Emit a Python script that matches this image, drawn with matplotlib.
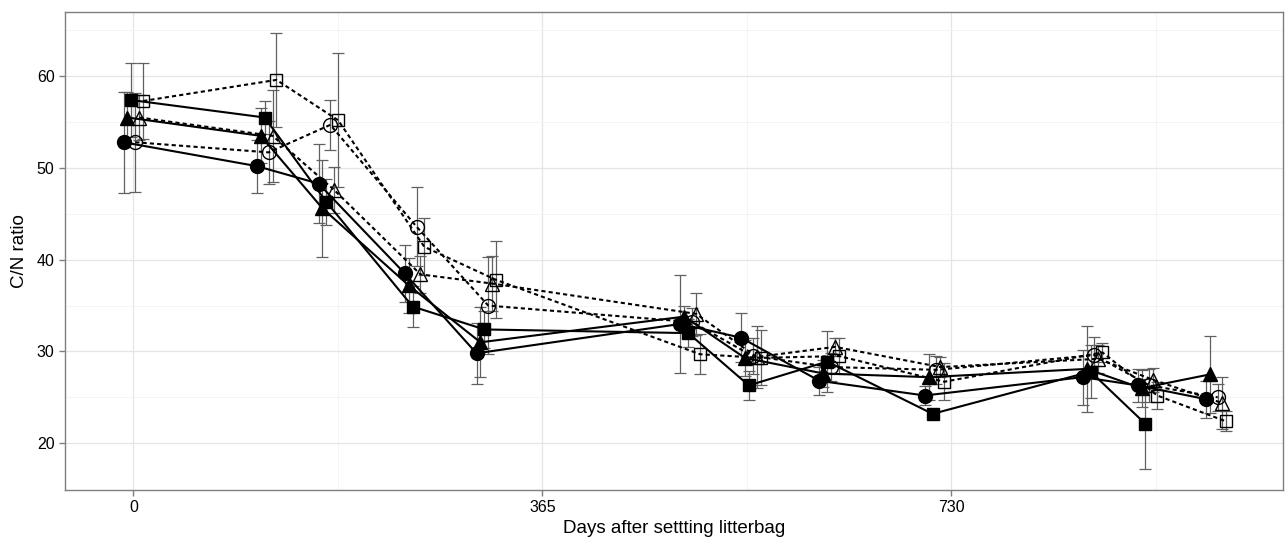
import numpy as np
import matplotlib
matplotlib.use("Agg")
import matplotlib.pyplot as plt
from matplotlib.ticker import FixedLocator

plt.rcParams['font.family'] = ['Liberation Sans', 'DejaVu Sans']

days = [0, 119, 174, 251, 315, 497, 551, 621, 715, 856, 905, 966]
nan = np.nan

filled_circle = [52.8, 50.2, 48.3, 38.5, 29.8, 33.0, 31.5, 26.8, 25.2, 27.2, 26.3, 24.8]
filled_circle_sd = [5.5, 2.9, 4.3, 3.1, 3.3, 5.3, 2.7, 1.5, 1.0, 3.0, 1.8, 2.0]
filled_triangle = [55.5, 53.5, 45.6, 37.2, 31.0, 33.8, 29.3, 27.6, 27.2, 28.1, 26.0, 27.5]
filled_triangle_sd = [2.8, 3.0, 5.3, 3.0, 3.8, 1.2, 2.0, 1.5, 2.5, 4.7, 2.0, 4.2]
filled_square = [57.4, 55.5, 46.3, 34.9, 32.4, 32.0, 26.3, 28.9, 23.2, 27.8, 22.1, nan]
filled_square_sd = [4.0, 1.8, 2.5, 2.2, 2.0, 1.5, 1.6, 3.3, 0.5, 2.9, 4.9, nan]
open_circle = [52.8, 51.7, 54.7, 43.6, 35.0, 33.2, 29.5, 28.3, 28.0, 29.6, 26.3, 25.0]
open_circle_sd = [5.4, 3.4, 2.7, 4.3, 5.3, 1.5, 2.0, 1.5, 1.5, 2.0, 1.8, 1.5]
open_triangle = [55.5, 53.5, 47.6, 38.4, 37.4, 34.1, 29.4, 30.5, 28.3, 29.2, 26.9, 24.4]
open_triangle_sd = [2.5, 5.0, 2.5, 2.0, 3.0, 2.3, 3.4, 1.0, 1.1, 1.5, 1.3, 2.8]
open_square = [57.3, 59.6, 55.2, 41.4, 37.8, 29.7, 29.3, 29.5, 26.7, 29.9, 25.2, 22.4]
open_square_sd = [4.1, 5.1, 7.3, 3.1, 4.2, 2.2, 3.0, 2.0, 2.0, 1.0, 1.5, 1.1]

x_ticks = [0, 365, 730]
y_ticks = [20, 30, 40, 50, 60]

series = [
    (filled_circle, filled_circle_sd, 'o', 'black', '-'),
    (filled_triangle, filled_triangle_sd, '^', 'black', '-'),
    (filled_square, filled_square_sd, 's', 'black', '-'),
    (open_circle, open_circle_sd, 'o', 'none', '--'),
    (open_triangle, open_triangle_sd, '^', 'none', '--'),
    (open_square, open_square_sd, 's', 'none', '--'),
]

fig = plt.figure(figsize=(12.87, 5.45), dpi=100)
ax = fig.add_axes([0.0505, 0.1009, 0.9464, 0.8771])

dodge = 3.5
for i, (vals, sd, m, fc, ls) in enumerate(series):
    x = np.array(days, dtype=float) + (i - 2.5) * dodge
    y = np.array(vals, dtype=float)
    e = np.array(sd, dtype=float)
    ax.errorbar(x, y, yerr=e, fmt='none', ecolor='#606060', elinewidth=0.9,
                capsize=4, capthick=0.9, zorder=2)
    if ls == '--':
        ax.plot(x, y, linestyle='--', color='black', linewidth=1.5,
                dashes=(2, 1.5), zorder=3)
    else:
        ax.plot(x, y, linestyle='-', color='black', linewidth=1.5, zorder=3)
    ms = {'o': 10, 's': 9.3, '^': 10.5}[m]
    ax.plot(x, y, linestyle='none', marker=m, markersize=ms,
            markerfacecolor=fc, markeredgecolor='black',
            markeredgewidth=1.0, zorder=4)

ax.set_xlim(-61, 1026)
ax.set_ylim(14.9, 67)
ax.set_xticks(x_ticks)
ax.set_xticklabels([str(t) for t in x_ticks])
ax.set_yticks(y_ticks)
ax.xaxis.set_minor_locator(FixedLocator([182.5, 547.5, 912.5]))
ax.yaxis.set_minor_locator(FixedLocator([25, 35, 45, 55, 65]))

ax.grid(which='major', color='#e5e5e5', linewidth=0.9)
ax.grid(which='minor', color='#f4f4f4', linewidth=0.7)
ax.set_axisbelow(True)
for s in ax.spines.values():
    s.set_color('#7f7f7f')
    s.set_linewidth(1.0)

ax.tick_params(axis='both', which='major', length=4, color='#7f7f7f',
               labelsize=11.5, labelcolor='black', width=1)
ax.tick_params(axis='both', which='minor', length=0)

ax.set_xlabel('Days after settting litterbag', fontsize=13.5, labelpad=3)
ax.set_ylabel('C/N ratio', fontsize=13.5, labelpad=6)

fig.savefig('out.png', dpi=100)
